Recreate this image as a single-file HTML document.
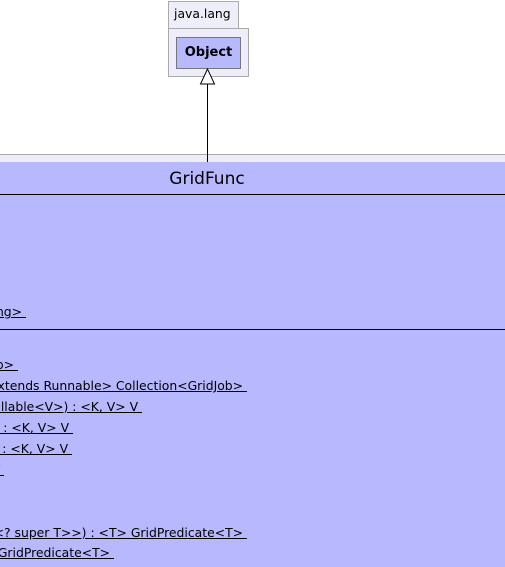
<!DOCTYPE html>
<html><head><style>
body{margin:0;width:505px;height:567px;overflow:hidden;background:#fff;position:relative;font-family:"DejaVu Sans","Liberation Sans",sans-serif;}
.a{position:absolute;}
.c{position:absolute;left:0;top:0;width:505px;height:567px;overflow:hidden;}
.t{position:absolute;white-space:nowrap;font-size:12.4px;line-height:16px;color:#000;text-decoration:underline;text-align:right;}
</style></head><body>
<div class="a" style="left:168px;top:1px;width:69px;height:27px;background:#eeeefa;border:1px solid #aaa;border-bottom:none;"></div>
<div class="a" style="left:174px;top:6px;font-size:12.4px;color:#000;">java.lang</div>
<div class="a" style="left:168px;top:28px;width:79px;height:47px;background:#eeeefa;border:1px solid #aaa;"></div>
<div class="a" style="left:176px;top:37px;width:63px;height:30px;background:#b8b8ff;border:1px solid #777;font-weight:bold;font-size:13px;text-align:center;line-height:30px;">Object</div>
<div class="a" style="left:0;top:154px;width:505px;height:8px;background:#eeeefa;border-top:1px solid #aaa;"></div>
<div class="a" style="left:0;top:162px;width:505px;height:405px;background:#b8b8ff;"></div>
<div class="a" style="left:0;top:194px;width:505px;height:1px;background:#000;"></div>
<div class="a" style="left:0;top:329px;width:505px;height:1px;background:#000;"></div>
<div class="a" style="left:0;top:169px;width:414px;text-align:center;font-size:17px;">GridFunc</div>
<svg class="a" style="left:0;top:0" width="505" height="567">
<line x1="207.5" y1="84" x2="207.5" y2="162" stroke="#000"/>
<polygon points="207.5,69 200.5,84 214.5,84" fill="#fff" stroke="#000"/>
</svg>
<div class="c">
<div class="t" style="right:479px;top:304px;">String&lt;String&gt;&nbsp;</div>
<div class="t" style="right:487px;top:357px;">GridJob&gt;&nbsp;</div>
<div class="t" style="right:258px;top:378px;">T extends Runnable&gt; Collection&lt;GridJob&gt;&nbsp;</div>
<div class="t" style="right:363px;top:399px;">Callable&lt;V&gt;) : &lt;K, V&gt; V&nbsp;</div>
<div class="t" style="right:432px;top:420px;">V>) : &lt;K, V&gt; V&nbsp;</div>
<div class="t" style="right:433px;top:441px;">V>) : &lt;K, V&gt; V&nbsp;</div>
<div class="t" style="right:501px;top:462px;">T&nbsp;</div>
<div class="t" style="right:258px;top:525px;">Predicate&lt;? super T&gt;&gt;) : &lt;T&gt; GridPredicate&lt;T&gt;&nbsp;</div>
<div class="t" style="right:391px;top:545px;">&lt;T&gt; GridPredicate&lt;T&gt;&nbsp;</div>
</div>
</body></html>
